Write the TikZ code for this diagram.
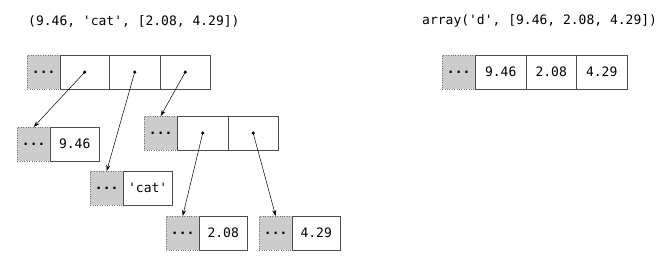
\documentclass[tikz,border=0pt]{standalone}
\usepackage{fontspec}
\setmonofont{DejaVu Sans Mono}
\usetikzlibrary{arrows.meta}
\begin{document}
\begin{tikzpicture}[x=1pt,y=-1pt,
  every node/.style={font=\ttfamily\fontsize{13}{15}\selectfont},
  hdr/.style={rectangle, anchor=north west, fill=black!20, draw=black!55, dotted, minimum width=33pt, minimum height=34pt, inner sep=0pt, font=\ttfamily\bfseries\fontsize{13}{15}\selectfont},
  cell/.style={rectangle, anchor=north west, draw=black!70, minimum width=#1, minimum height=34pt, inner sep=0pt},
  cell/.default=50pt,
  ptr/.style={-{Stealth[length=6pt,width=4pt]}, black, line width=0.5pt},
  dot/.style={circle, fill=black, inner sep=0pt, minimum size=3.5pt}]
\useasboundingbox (0,0) rectangle (660,256);
% titles
\node[anchor=west, inner sep=0pt] (t1) at (28,21) {(9.46, 'cat', [2.08, 4.29])};
\node[anchor=west, inner sep=0pt] (t2) at (422,21) {array('d', [9.46, 2.08, 4.29])};
% top tuple
\node[hdr] (th) at (27,55) {...};
\node[cell=49pt] (tc1) at (60,55) {};
\node[cell=51pt] (tc2) at (109,55) {};
\node[cell=50pt] (tc3) at (160,55) {};
% float 9.46
\node[hdr] (ah) at (17,127) {...};
\node[cell=49pt] (ac) at (50,127) {9.46};
% str 'cat'
\node[hdr] (bh) at (90,171) {...};
\node[cell=49pt] (bc) at (123,171) {'cat'};
% list
\node[hdr] (lh) at (144,116) {...};
\node[cell=51pt] (lc1) at (177,116) {};
\node[cell=50pt] (lc2) at (228,116) {};
% floats 2.08, 4.29
\node[hdr] (ch) at (166,216) {...};
\node[cell=48pt] (cc) at (199,216) {2.08};
\node[hdr] (dh) at (259,216) {...};
\node[cell=48pt] (dc) at (292,216) {4.29};
% array
\node[hdr] (rh) at (442,55) {...};
\node[cell=51pt] (rc1) at (475,55) {9.46};
\node[cell=50pt] (rc2) at (526,55) {2.08};
\node[cell=51pt] (rc3) at (576,55) {4.29};
% pointers
\node[dot] (p1) at (tc1.center) {};
\node[dot] (p2) at (tc2.center) {};
\node[dot] (p3) at (tc3.center) {};
\node[dot] (p4) at (lc1.center) {};
\node[dot] (p5) at (lc2.center) {};
\draw[ptr] (p1.center) -- (ah.north);
\draw[ptr] (p2.center) -- (bh.north);
\draw[ptr] (p3.center) -- (lh.north);
\draw[ptr] (p4.center) -- (ch.north);
\draw[ptr] (p5.center) -- (dh.north);
\end{tikzpicture}
\end{document}
